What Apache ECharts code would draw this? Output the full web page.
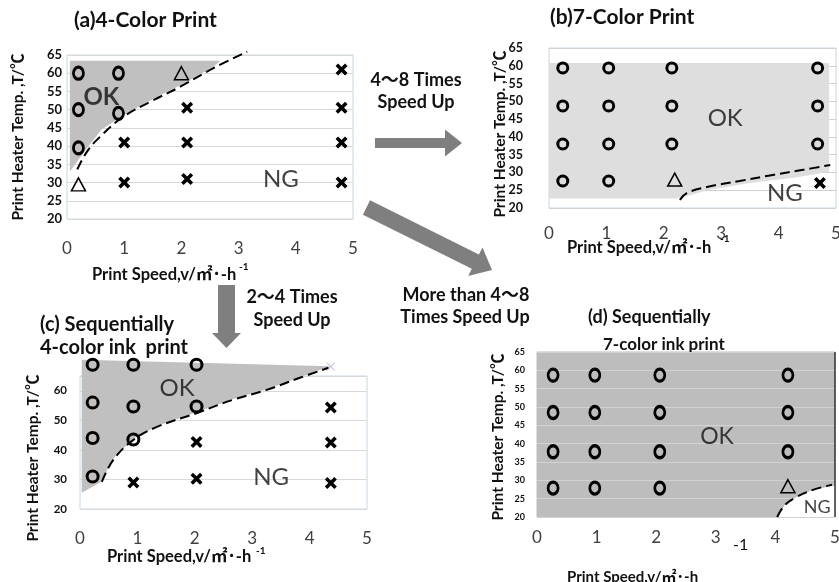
<!DOCTYPE html>
<html>
<head>
<meta charset="utf-8">
<script src="https://cdn.jsdelivr.net/npm/echarts@6/dist/echarts.min.js"></script>
<style>
  html, body { margin: 0; padding: 0; background: #fff; }
  #chart { width: 839px; height: 582px; }
</style>
</head>
<body>
<div id="chart"></div>
<script>
// ---- data (x: print speed, y: heater temp) ----
// (a) 4-color print
const aOk = [[0.2, 60], [0.9, 60], [0.2, 50], [0.9, 49], [0.2, 39.5]]
const aTri = [[0.2, 29.5], [2.0, 60]]
const aNg = [[1.0, 41], [2.1, 41], [2.1, 50.5], [1.0, 30], [2.1, 31], [4.8, 61], [4.8, 50.5], [4.8, 41], [4.8, 30]]
const aCurve = [[0.18, 33.6], [0.35, 38.5], [0.58, 42.6], [0.98, 48], [1.46, 52.2], [1.98, 56.3], [2.56, 61.4], [3.15, 65.9]]
const aRegion = [[0.05, 63.4], [2.68, 63.4], [2.56, 61.8], [1.98, 56.7], [1.46, 52.6], [0.98, 48.4], [0.6, 44.5], [0.35, 39.5], [0.05, 33]]

// (b) 7-color print
const bOk = [[0.24, 59.4], [1.04, 59.4], [2.14, 59.4], [4.68, 59.4],
  [0.24, 48.7], [1.04, 48.7], [2.14, 48.7], [4.68, 48.7],
  [0.24, 38], [1.04, 38], [2.14, 38], [4.68, 38],
  [0.24, 27.6], [1.04, 27.6]]
const bTri = [[2.19, 28]]
const bNg = [[4.72, 27]]
const bCurve = [[2.28, 22.3], [2.4, 24.2], [2.75, 25.9], [3.32, 27.6], [3.9, 29.3], [4.45, 30.8], [4.9, 32.1]]
const bRegion = [[0, 60.8], [4.88, 60.8], [4.88, 30.2], [4.3, 28.6], [3.5, 27], [2.75, 25], [2.45, 23.5], [2.2, 22.7], [0, 22.7]]

// (c) sequential 4-color
const cOk = [[0.22, 68.8], [0.93, 68.8], [2.03, 68.8], [0.22, 56], [0.93, 54.7], [2.03, 54.7], [0.22, 44], [0.93, 43.5], [0.22, 31]]
const cNg = [[0.93, 29], [2.03, 42.7], [2.03, 30.2], [4.37, 54.3], [4.37, 42.5], [4.37, 28.8]]
const cFaint = [[4.37, 68.2]]
const cCurve = [[0.38, 29.2], [0.58, 36.6], [0.93, 43.4], [1.34, 47.8], [2.04, 52.5], [2.67, 57], [3.25, 60.3], [3.83, 64.4], [4.33, 67.8]]
const cRegion = [[0.03, 70.5], [4.36, 68.3], [3.83, 64.6], [3.25, 60.5], [2.67, 57.2], [2.04, 52.8], [1.34, 48.1], [0.93, 43.8], [0.6, 37.5], [0.35, 29], [0.03, 25.5]]

// (d) sequential 7-color
const dOk = [[0.27, 58.7], [0.97, 58.7], [2.06, 58.7], [4.21, 58.7],
  [0.27, 48.5], [0.97, 48.5], [2.06, 48.5], [4.21, 48.5],
  [0.27, 37.8], [0.97, 37.8], [2.06, 37.8], [4.21, 37.8],
  [0.27, 27.9], [0.97, 27.9], [2.06, 27.9]]
const dTri = [[4.21, 28.4]]
const dCurve = [[4.03, 20], [4.16, 23.3], [4.36, 25.5], [4.63, 27.4], [4.95, 28.8]]
const dNgRegion = [[4.03, 20], [4.16, 23.3], [4.36, 25.5], [4.63, 27.4], [5, 28.6], [5, 20]]
const dEdge = [5]

// region labels [x, y, text]
const aLabels = [[0.6, 53.5, 'OK'], [3.74, 31, 'NG']]
const bLabels = [[3.07, 45.3, 'OK'], [4.11, 24.2, 'NG']]
const cLabels = [[1.69, 61, 'OK'], [3.33, 30.8, 'NG']]
const dLabels = [[3.02, 41.9, 'OK'], [4.7, 22.7, 'NG']]

const xTicks = [0, 5, 1]   // min, max, step
const yName = 'Print Heater Temp. ,T/℃'
const xName = 'Print Speed,v/㎡･-h'

const FONT = 'Lato, "Noto Sans CJK JP", sans-serif'
const INK = '#000'
const CROSS = 'path://M0,2.5 L2.5,0 L6,3.5 L9.5,0 L12,2.5 L8.5,6 L12,9.5 L9.5,12 L6,8.5 L2.5,12 L0,9.5 L3.5,6 Z'

function grid(left, top, width, height, extra) {
  return Object.assign({
    left, top, width, height, containLabel: false, outerBoundsMode: 'none',
    show: true, borderColor: '#c5d9e2', borderWidth: 1, backgroundColor: 'transparent'
  }, extra || {})
}
function xAxis(i, margin) {
  return {
    type: 'value', gridIndex: i, min: xTicks[0], max: xTicks[1], interval: xTicks[2],
    axisLine: { show: false }, axisTick: { show: false }, splitLine: { show: false },
    axisLabel: { color: '#404040', fontSize: 17, fontFamily: FONT, margin }
  }
}
function yAxis(i, interval, fontSize, margin, splitColor) {
  return {
    type: 'value', gridIndex: i, min: 20, max: 65, interval,
    axisLine: { show: false }, axisTick: { show: false },
    splitLine: { show: true, lineStyle: { color: splitColor, width: 1 } },
    axisLabel: { color: '#111', fontWeight: 'bold', fontSize, fontFamily: FONT, margin, showMaxLabel: interval === 5 }
  }
}
function region(i, pts, color) {
  return {
    type: 'custom', xAxisIndex: i, yAxisIndex: i, clip: false, silent: true, z: 1,
    data: [pts[0]],
    renderItem: (params, api) => ({
      type: 'polygon',
      shape: { points: pts.map(p => api.coord(p)) },
      style: { fill: color }
    })
  }
}
function circles(i, data, size) {
  return {
    type: 'scatter', xAxisIndex: i, yAxisIndex: i, data, clip: false, z: 5,
    symbol: 'circle', symbolSize: size,
    itemStyle: { color: 'rgba(0,0,0,0)', borderColor: INK, borderWidth: 3, opacity: 1 }
  }
}
function triangles(i, data) {
  return {
    type: 'scatter', xAxisIndex: i, yAxisIndex: i, data, clip: false, z: 5,
    symbol: 'triangle', symbolSize: [14, 13],
    itemStyle: { color: 'rgba(0,0,0,0)', borderColor: INK, borderWidth: 1.5, opacity: 1 }
  }
}
function crosses(i, data) {
  return {
    type: 'scatter', xAxisIndex: i, yAxisIndex: i, data, clip: false, z: 5,
    symbol: CROSS, symbolSize: 12, itemStyle: { color: INK, opacity: 1 }
  }
}
function curve(i, data, extra) {
  return Object.assign({
    type: 'line', xAxisIndex: i, yAxisIndex: i, data, clip: false, z: 4,
    smooth: 0.4, symbol: 'none',
    lineStyle: { color: INK, width: 2, type: [10, 5] }
  }, extra || {})
}
function labels(i, data, size, weights) {
  return {
    type: 'scatter', xAxisIndex: i, yAxisIndex: i, z: 6, clip: false,
    symbolSize: 1, itemStyle: { color: 'rgba(0,0,0,0)' },
    data: data.map((d, k) => ({
      value: d,
      label: {
        show: true, position: 'inside', formatter: p => p.value[2],
        color: '#111', fontFamily: FONT, fontSize: size[k], fontWeight: weights[k]
      }
    }))
  }
}

// arrows are decoration, built from their start / tip in pixels
function arrow(sx, sy, tx, ty, shaftHalf, headHalf, headLen) {
  const len = Math.hypot(tx - sx, ty - sy)
  const ux = (tx - sx) / len, uy = (ty - sy) / len
  const nx = -uy, ny = ux
  const bx = tx - ux * headLen, by = ty - uy * headLen
  return {
    type: 'polygon', silent: true,
    shape: {
      points: [
        [sx + nx * shaftHalf, sy + ny * shaftHalf], [bx + nx * shaftHalf, by + ny * shaftHalf],
        [bx + nx * headHalf, by + ny * headHalf], [tx, ty],
        [bx - nx * headHalf, by - ny * headHalf], [bx - nx * shaftHalf, by - ny * shaftHalf],
        [sx - nx * shaftHalf, sy - ny * shaftHalf]
      ]
    },
    style: { fill: '#7f7f7f' }
  }
}
function text(x, y, str, size, weight, align) {
  return {
    type: 'text', x, y, silent: true,
    style: {
      text: str, fill: '#111', fontSize: size, fontWeight: weight, fontFamily: FONT,
      textAlign: align || 'left', textVerticalAlign: 'middle',
      align: align || 'left', verticalAlign: 'middle'
    }
  }
}
function vtext(x, y, str) {
  const t = text(x, y, str, 15.5, 'bold', 'center')
  t.rotation = Math.PI / 2
  return t
}

const chart = echarts.init(document.getElementById('chart'), null, { renderer: 'canvas' })
chart.setOption({
  animation: false,
  backgroundColor: '#fff',
  grid: [
    grid(67, 55, 286, 164),
    grid(549, 48, 287, 160),
    grid(80, 376, 287, 133),
    grid(537, 352, 298, 165, { backgroundColor: '#bdbdbd', borderColor: '#bdbdbd' })
  ],
  xAxis: [xAxis(0, 21), xAxis(1, 17), xAxis(2, 21), xAxis(3, 12)],
  yAxis: [
    yAxis(0, 5, 13, 5, '#d9d9d9'),
    yAxis(1, 5, 12.5, 26, '#d0d0d0'),
    yAxis(2, 10, 11.5, 13, '#d9d9d9'),
    yAxis(3, 5, 9, 12, '#d2d2d2')
  ],
  series: [
    region(0, aRegion, '#c0c0c0'),
    curve(0, aCurve),
    circles(0, aOk, [10, 12]),
    triangles(0, aTri),
    crosses(0, aNg),
    labels(0, aLabels, [24, 24], ['bold', 'normal']),

    region(1, bRegion, '#dedede'),
    curve(1, bCurve),
    circles(1, bOk, [10, 10]),
    triangles(1, bTri),
    crosses(1, bNg),
    labels(1, bLabels, [24, 24], ['normal', 'normal']),

    region(2, cRegion, '#c0c0c0'),
    curve(2, cCurve),
    circles(2, cOk, [11, 11]),
    crosses(2, cNg),
    {
      type: 'scatter', xAxisIndex: 2, yAxisIndex: 2, data: cFaint, clip: false, z: 5,
      symbol: 'path://M0,0 L10,10 M10,0 L0,10', symbolSize: 8,
      itemStyle: { color: 'rgba(0,0,0,0)', borderColor: '#a393d0', borderWidth: 1 }
    },
    labels(2, cLabels, [24, 24], ['normal', 'normal']),

    region(3, dNgRegion, '#ffffff'),
    curve(3, dCurve, {
      markLine: {
        silent: true, symbol: 'none', label: { show: false },
        lineStyle: { color: '#333', width: 1.5, type: 'solid' },
        data: dEdge.map(v => ({ xAxis: v }))
      }
    }),
    circles(3, dOk, [10, 12]),
    triangles(3, dTri),
    labels(3, dLabels, [23, 18], ['normal', 'normal'])
  ],
  graphic: [
    // panel titles
    text(74, 20, '(a)4-Color Print', 21, 'bold'),
    text(550, 17, '(b)7-Color Print', 21, 'bold'),
    text(40, 325, '(c) Sequentially', 20, 'bold'),
    text(40, 348, '4-color ink  print', 20, 'bold'),
    text(588, 317, '(d) Sequentially', 18, 'bold'),
    text(603, 345, '7-color ink print', 17, 'bold'),
    // axis names
    vtext(18, 137, yName), vtext(500, 134, yName), vtext(33, 458, yName), vtext(498, 437, yName),
    text(92, 275, xName, 16.5, 'bold'), text(239, 267, '-1', 10, 'bold'),
    text(567, 248, xName, 16.5, 'bold'), text(720, 239, '-1', 10, 'bold'),
    text(107, 557, xName, 16.5, 'bold'), text(256, 551, '-1', 10, 'bold'),
    text(567, 577, xName, 15, 'bold'), text(733, 545, '-1', 16, 'normal'),
    // arrows and captions
    arrow(375, 143, 462, 143, 5, 13.5, 17),
    arrow(226.5, 285, 226.5, 348, 8.5, 14.5, 15),
    arrow(366.5, 207.5, 492, 270, 8, 16, 18.6),
    text(416, 80, '4～8 Times', 18, 'bold', 'center'),
    text(416, 102, 'Speed Up', 18, 'bold', 'center'),
    text(292, 297, '2～4 Times', 18, 'bold', 'center'),
    text(292, 320, 'Speed Up', 18, 'bold', 'center'),
    text(466, 295, 'More than 4～8', 18, 'bold', 'center'),
    text(465, 317, 'Times Speed Up', 18, 'bold', 'center')
  ]
})
</script>
</body>
</html>
